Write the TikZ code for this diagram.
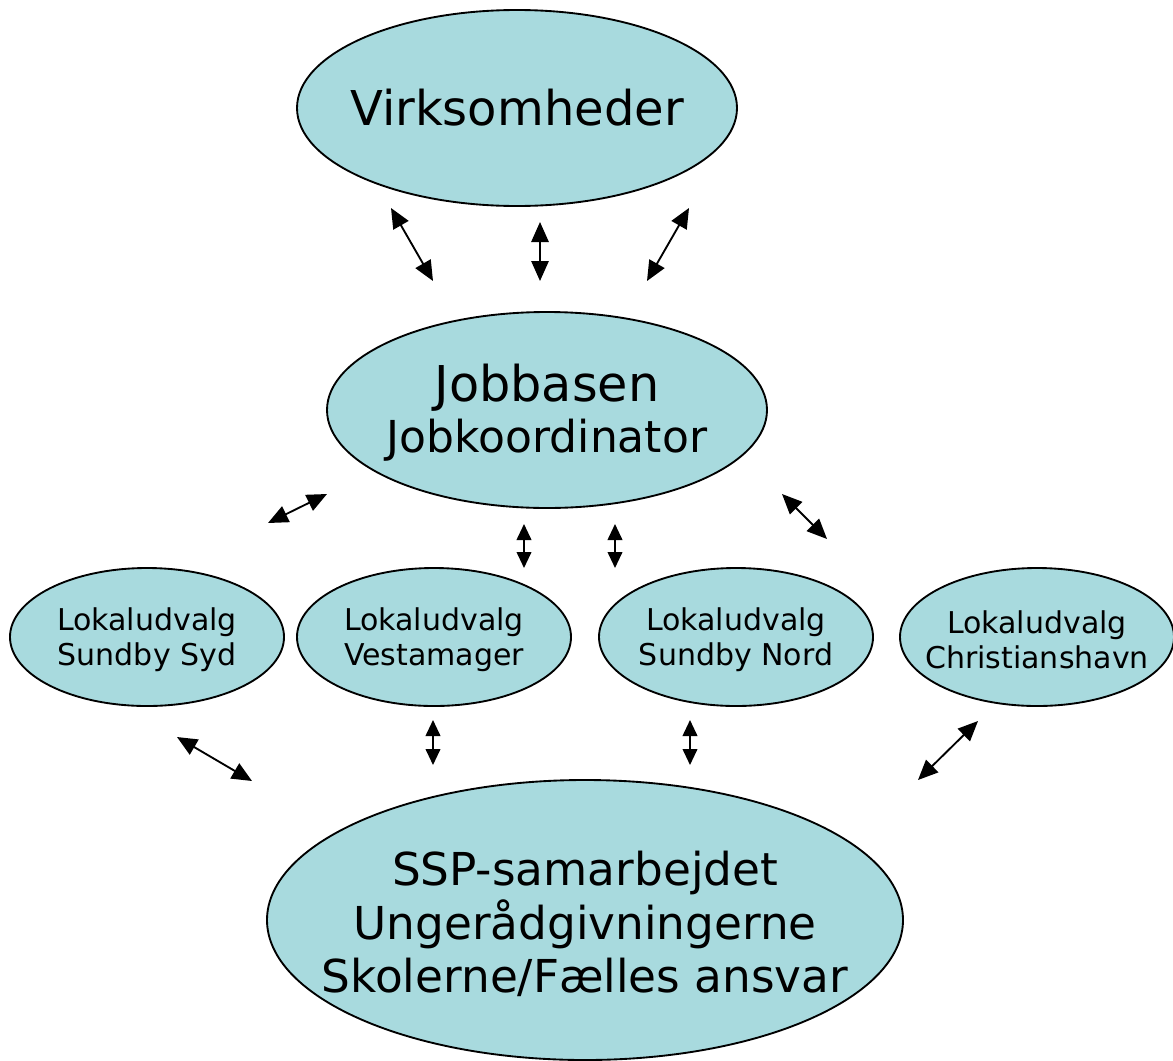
\documentclass[tikz,border=0pt]{standalone}
\usepackage{fontspec}
\setmainfont{DejaVu Sans}
\usetikzlibrary{shapes.geometric,arrows.meta}
\definecolor{bubble}{RGB}{168,218,222}
\tikzset{
  bubble/.style={ellipse,draw=black,line width=1.4pt,fill=bubble,inner sep=0pt},
  big/.style={bubble,minimum width=330pt,minimum height=147pt},
  small/.style={bubble,minimum width=205.5pt,minimum height=103.5pt},
  label/.style={align=center,inner sep=0pt},
  link/.style={line width=1.4pt,{Triangle[length=15pt,width=13pt]}-{Triangle[length=15pt,width=13pt]}},
  shortlink/.style={line width=1.4pt,{Triangle[length=12pt,width=11pt]}-{Triangle[length=12pt,width=11pt]}}
}
\begin{document}
\begin{tikzpicture}[x=0.75pt,y=-0.75pt]
\useasboundingbox (0,0) rectangle (1173,1060);
\node[big] (virk) at (517,108) {};
\node[big] (job) at (547,410) {};
\node[small] (syd) at (147,637) {};
\node[small] (vest) at (434,637) {};
\node[small] (nord) at (736,637) {};
\node[small] (chr) at (1037,637) {};
\node[bubble,minimum width=477pt,minimum height=210pt] (ssp) at (585,920) {};

\node[label,font=\fontsize{36}{40}\selectfont] (virkt) at (virk) {Virksomheder};
\node[label,font=\fontsize{37}{40}\selectfont] (jobt1) at ([yshift=16.5pt]job.center) {Jobbasen};
\node[label,font=\fontsize{33}{40}\selectfont] (jobt2) at ([yshift=-22.5pt]job.center) {Jobkoordinator};
\node[label,font=\fontsize{22.5}{26}\selectfont] (sydt) at ([yshift=-2pt]syd.center) {Lokaludvalg\\Sundby Syd};
\node[label,font=\fontsize{22.5}{26}\selectfont] (vestt) at ([yshift=-2pt]vest.center) {Lokaludvalg\\Vestamager};
\node[label,font=\fontsize{22.5}{26}\selectfont] (nordt) at ([yshift=-2pt]nord.center) {Lokaludvalg\\Sundby Nord};
\node[label,font=\fontsize{22.5}{26}\selectfont] (chrt) at ([yshift=-2pt]chr.center) {Lokaludvalg\\Christianshavn};
\node[label,font=\fontsize{34}{40}\selectfont] (sspt) at ([yshift=-3pt]ssp.center) {SSP-samarbejdet\\Ungerådgivningerne\\Skolerne/Fælles ansvar};

\coordinate (a1) at (391,208); \coordinate (b1) at (433,281);
\coordinate (a2) at (540,222); \coordinate (b2) at (540,281);
\coordinate (a3) at (689,208); \coordinate (b3) at (647,281);
\coordinate (a4) at (327,494); \coordinate (b4) at (268,523);
\coordinate (a5) at (524,524); \coordinate (b5) at (524,568);
\coordinate (a6) at (615,524); \coordinate (b6) at (615,568);
\coordinate (a7) at (782,494); \coordinate (b7) at (827,539);
\coordinate (a8) at (177,737); \coordinate (b8) at (252,781);
\coordinate (a9) at (433,720); \coordinate (b9) at (433,765);
\coordinate (a10) at (690,720); \coordinate (b10) at (690,765);
\coordinate (a11) at (978,721); \coordinate (b11) at (918,780);

\draw[link] (a1) -- (b1);
\draw[link] (a2) -- (b2);
\draw[link] (a3) -- (b3);
\draw[link] (a4) -- (b4);
\draw[shortlink] (a5) -- (b5);
\draw[shortlink] (a6) -- (b6);
\draw[link] (a7) -- (b7);
\draw[link] (a8) -- (b8);
\draw[shortlink] (a9) -- (b9);
\draw[shortlink] (a10) -- (b10);
\draw[link] (a11) -- (b11);
\end{tikzpicture}
\end{document}
